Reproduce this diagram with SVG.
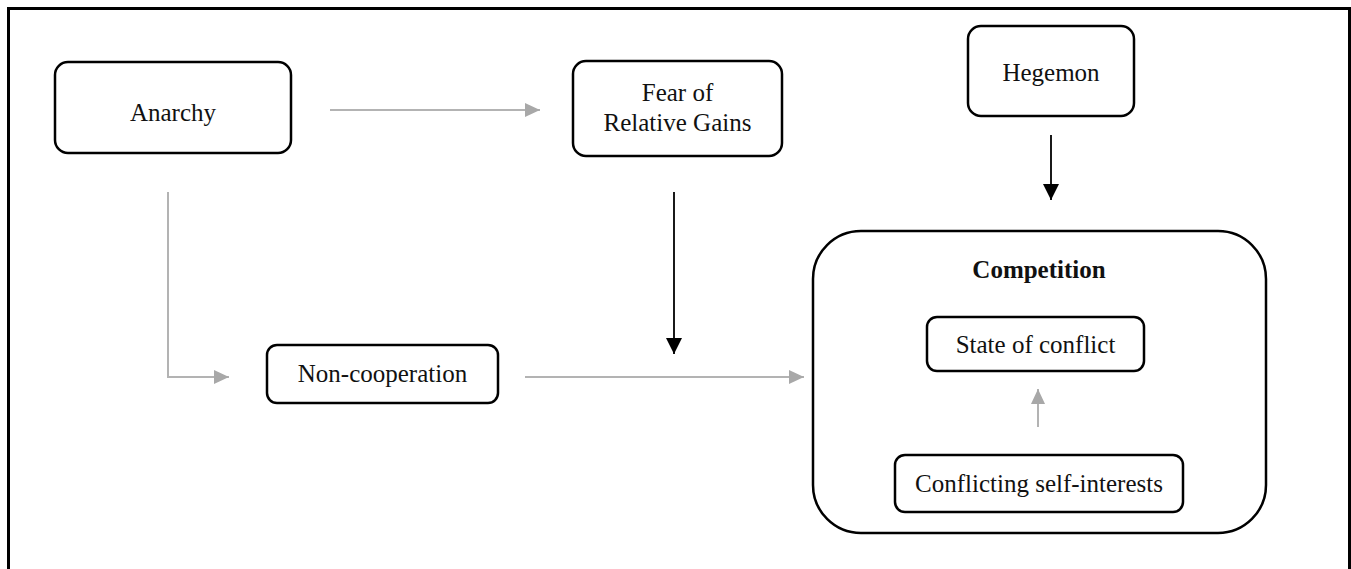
<svg xmlns="http://www.w3.org/2000/svg" width="1351" height="569" viewBox="0 0 1351 569">
  <style>
    .box { fill: #ffffff; stroke: #000000; stroke-width: 2.5; }
    .lbl { font-family: "Liberation Serif", "DejaVu Serif", serif; font-size: 25px; fill: #111111; text-anchor: middle; }
    .bold { font-weight: bold; }
    .grey { fill: none; stroke: #b3b3b3; stroke-width: 2; }
    .dark { fill: none; stroke: #000000; stroke-width: 1.8; }
  </style>
  <defs>
    <marker id="headGrey" markerUnits="userSpaceOnUse" markerWidth="16" markerHeight="14" refX="15" refY="7" orient="auto">
      <path d="M0,0 L15,7 L0,14 Z" fill="#a8a8a8"/>
    </marker>
    <marker id="headDark" markerUnits="userSpaceOnUse" markerWidth="17" markerHeight="16" refX="16" refY="8" orient="auto">
      <path d="M0,0 L16,8 L0,16 Z" fill="#000000"/>
    </marker>
  </defs>

  <rect x="0" y="0" width="1351" height="569" fill="#ffffff"/>
  <!-- outer frame -->
  <rect x="8.5" y="8.5" width="1341" height="620" fill="none" stroke="#000000" stroke-width="3"/>

  <g id="anarchy">
    <rect class="box" x="55" y="62" width="236" height="91" rx="13"/>
    <text class="lbl" x="173" y="121">Anarchy</text>
  </g>

  <g id="fear-of-relative-gains">
    <rect class="box" x="573" y="61" width="209" height="95" rx="13"/>
    <text class="lbl" x="677.5" y="101">Fear of</text>
    <text class="lbl" x="677.5" y="131">Relative Gains</text>
  </g>

  <g id="hegemon">
    <rect class="box" x="968" y="26" width="166" height="90" rx="13"/>
    <text class="lbl" x="1051" y="81">Hegemon</text>
  </g>

  <g id="non-cooperation">
    <rect class="box" x="267" y="345" width="231" height="58" rx="10"/>
    <text class="lbl" x="382.5" y="382">Non-cooperation</text>
  </g>

  <g id="competition">
    <rect class="box" x="813" y="231" width="453" height="302" rx="48"/>
    <text class="lbl bold" x="1039" y="278">Competition</text>
  </g>

  <g id="state-of-conflict">
    <rect class="box" x="927" y="317" width="217" height="54" rx="10"/>
    <text class="lbl" x="1035.5" y="353">State of conflict</text>
  </g>

  <g id="conflicting-self-interests">
    <rect class="box" x="895" y="455" width="288" height="57" rx="10"/>
    <text class="lbl" x="1039" y="492">Conflicting self-interests</text>
  </g>

  <!-- connectors drawn last so the inner link sits above the container fill -->
  <g id="connectors">
    <line class="grey" x1="330" y1="110" x2="540" y2="110" marker-end="url(#headGrey)"/>
    <polyline class="grey" points="168,192 168,377 229,377" marker-end="url(#headGrey)"/>
    <line class="grey" x1="525" y1="377" x2="804" y2="377" marker-end="url(#headGrey)"/>
    <line class="dark" x1="674" y1="192" x2="674" y2="354" marker-end="url(#headDark)"/>
    <line class="dark" x1="1051" y1="135" x2="1051" y2="200" marker-end="url(#headDark)"/>
    <line class="grey" x1="1038" y1="427" x2="1038" y2="389" marker-end="url(#headGrey)"/>
  </g>
</svg>
